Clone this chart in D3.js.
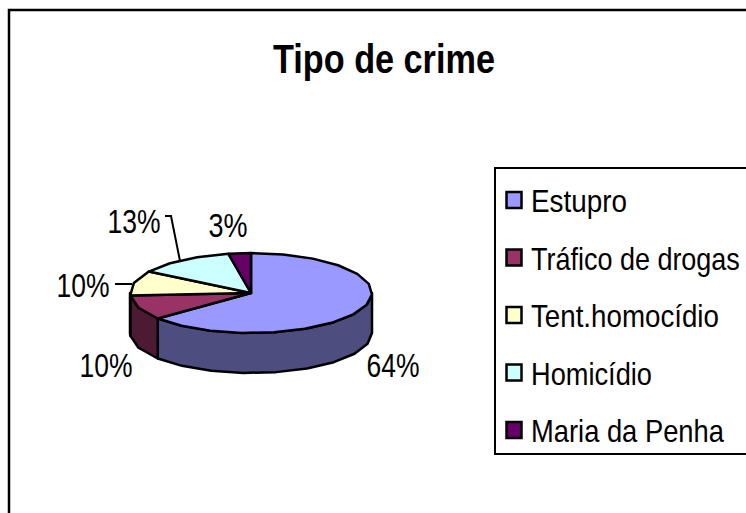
<!doctype html>
<html lang="pt">
<head>
  <meta charset="utf-8">
  <title>Tipo de crime</title>
  <style>
  html, body { margin: 0; padding: 0; background: #fff; overflow: hidden; }
  text { font-family: "Liberation Sans", Arial, sans-serif; fill: #000; }
  </style>
</head>
<body>
  <div id="chart"></div>
  <script src="https://d3js.org/d3.v7.min.js"></script>
<script>
var categories = ["Estupro", "Tráfico de drogas", "Tent.homocídio", "Homicídio", "Maria da Penha"];
var values = [64, 10, 10, 13, 3];
var topColors = ["#9999ff", "#993366", "#ffffcc", "#ccffff", "#660066"];
var sideColors = ["#4d4d80", "#4d1a33", "#80805f", "#608080", "#330033"];

var width = 746, height = 513;
var svg = d3.select("#chart").append("svg")
    .attr("width", width).attr("height", height)
    .style("display", "block");

// the original type is tall and narrow, so squeeze each text to the width it has there
function squeeze(sel, x, y, w, anchor) {
  sel.attr("text-anchor", "start").attr("transform", function(d, i) {
    var tw = typeof w === "function" ? w(d, i) : w;
    var sx = tw / this.getComputedTextLength();
    var px = typeof x === "function" ? x(d, i) : x;
    var py = typeof y === "function" ? y(d, i) : y;
    if (anchor === "middle") px -= tw / 2;
    return "translate(" + px + "," + py + ") scale(" + sx + ",1)";
  });
}

//------------------frame
svg.append("rect").attr("x", 9).attr("y", 10)
    .attr("width", width + 20).attr("height", height + 20)
    .attr("fill", "#fff").attr("stroke", "#000").attr("stroke-width", 2.5);

svg.append("text")
    .attr("font-size", 40).attr("font-weight", "bold")
    .text("Tipo de crime")
    .call(squeeze, 384, 73, 222, "middle");

//------------------pie
var cx = 251, cy = 293, rx = 121, ry = 40, depth = 40;
var slices = d3.pie().sort(null)(values);
var step = Math.PI / 12;   // coarse on purpose, the original outline is faceted

function rimPoints(a0, a1, dy) {
  var n = Math.max(1, Math.round((a1 - a0) / step)), pts = [];
  for (var i = 0; i <= n; i++) {
    var a = a0 + (a1 - a0) * i / n;
    pts.push([cx + rx * Math.sin(a), cy - ry * Math.cos(a) + dy]);
  }
  return pts;
}
var line = d3.line().curve(d3.curveLinearClosed);

// side walls, only the front half can be seen
var walls = slices.map(function(d, i) {
  var a0 = Math.max(d.startAngle, Math.PI / 2);
  var a1 = Math.min(d.endAngle, Math.PI * 1.5);
  return {i: i, a0: a0, a1: a1};
}).filter(function(d) { return d.a1 > d.a0; });

svg.append("g").selectAll("path").data(walls).enter().append("path")
    .attr("d", function(d) {
      return line(rimPoints(d.a0, d.a1, 0).concat(rimPoints(d.a0, d.a1, depth).reverse()));
    })
    .attr("fill", function(d) { return sideColors[d.i]; })
    .attr("stroke", "#000").attr("stroke-width", 2.5).attr("stroke-linejoin", "round");

svg.append("g").selectAll("path").data(slices).enter().append("path")
    .attr("d", function(d) {
      return line([[cx, cy]].concat(rimPoints(d.startAngle, d.endAngle, 0)));
    })
    .attr("fill", function(d, i) { return topColors[i]; })
    .attr("stroke", "#000").attr("stroke-width", 2.5).attr("stroke-linejoin", "round");

//------------------percent labels and leader lines
var total = d3.sum(values);
var pct = function(v) { return d3.format(".0%")(v / total); };
var labelPos = [[393, 377], [106, 377], [83, 297], [134, 233], [228, 237]];

svg.append("g").selectAll("text").data(values).enter().append("text")
    .attr("font-size", 34)
    .text(function(d) { return pct(d); })
    .call(squeeze,
      function(d, i) { return labelPos[i][0]; },
      function(d, i) { return labelPos[i][1]; },
      function(d) { return pct(d).length === 3 ? 53 : 39; }, "middle");

var leaders = [[[165, 216], [171, 216], [180, 261]], [[115, 284], [132, 284]]];
svg.append("g").selectAll("path").data(leaders).enter().append("path")
    .attr("d", d3.line())
    .attr("fill", "none").attr("stroke", "#000").attr("stroke-width", 2);

//------------------legend
svg.append("rect").attr("x", 495).attr("y", 168)
    .attr("width", 280).attr("height", 286)
    .attr("fill", "#fff").attr("stroke", "#000").attr("stroke-width", 2);

var legendY = d3.scalePoint().domain(categories).range([200, 430]);
var legend = svg.append("g").selectAll("g").data(categories).enter().append("g")
    .attr("transform", function(d) { return "translate(0," + legendY(d) + ")"; });

legend.append("rect")
    .attr("x", 506.5).attr("y", -8).attr("width", 15).attr("height", 16)
    .attr("fill", function(d, i) { return topColors[i]; })
    .attr("stroke", "#000").attr("stroke-width", 2.5);

var legendWidths = [96, 209, 188, 121, 193];
legend.append("text")
    .attr("font-size", 32)
    .text(function(d) { return d; })
    .call(squeeze, 531, 12, function(d, i) { return legendWidths[i]; });
</script>
</body>
</html>
